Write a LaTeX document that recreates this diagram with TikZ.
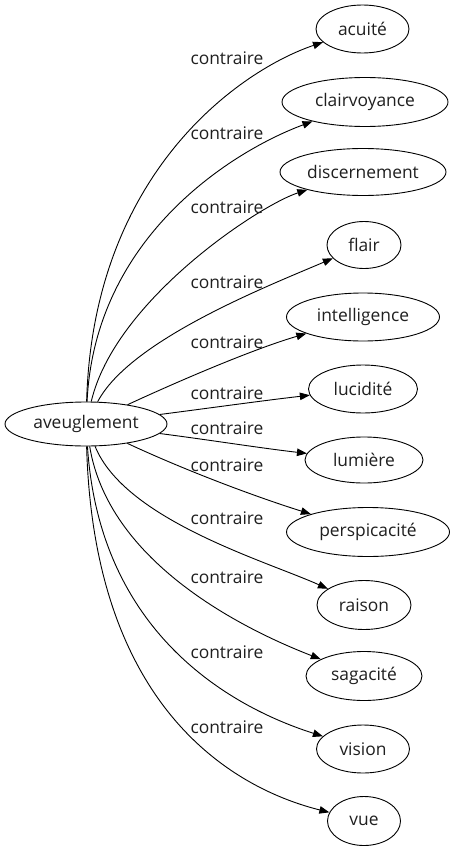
\documentclass[tikz,border=0pt]{standalone}
\usepackage{fontspec}
\setmainfont{Open Sans}
\usetikzlibrary{shapes.geometric,arrows.meta}
\begin{document}
\begin{tikzpicture}[x=1pt,y=-1pt,
  every node/.style={font=\fontsize{17.4}{20}\selectfont, text=black!88},
  word/.style={draw=black, line width=0.9pt, ellipse, inner sep=0pt},
  lbl/.style={inner sep=0pt},
  rel/.style={draw=black, line width=0.9pt, -{Triangle[length=10pt,width=7.5pt]}}]
\useasboundingbox (0,0) rectangle (453,851);
\node[word, minimum width=162pt, minimum height=44pt] (av) at (86,424) {aveuglement};
\node[word, minimum width=93pt, minimum height=48pt] (t1) at (362.5,29) {acuité};
\node[word, minimum width=166pt, minimum height=49pt] (t2) at (365,102) {clairvoyance};
\node[word, minimum width=166pt, minimum height=47pt] (t3) at (363,172) {discernement};
\node[word, minimum width=74pt, minimum height=47pt] (t4) at (364,245) {flair};
\node[word, minimum width=153pt, minimum height=48pt] (t5) at (363,317) {intelligence};
\node[word, minimum width=109pt, minimum height=48pt] (t6) at (363,389) {lucidité};
\node[word, minimum width=118pt, minimum height=46pt] (t7) at (364,460) {lumière};
\node[word, minimum width=163pt, minimum height=49pt] (t8) at (368,532) {perspicacité};
\node[word, minimum width=94pt, minimum height=49pt] (t9) at (364,605) {raison};
\node[word, minimum width=116pt, minimum height=49pt] (t10) at (364,676) {sagacité};
\node[word, minimum width=93pt, minimum height=48pt] (t11) at (363,749) {vision};
\node[word, minimum width=73pt, minimum height=49pt] (t12) at (364,821) {vue};
%
\draw[rel] (av) .. controls (93,170) and (243,69) .. (t1);
\draw[rel] (av) .. controls (95,235) and (235,150) .. (t2);
\draw[rel] (av) .. controls (115,300) and (260,205) .. (t3);
\draw[rel] (av) .. controls (130,340) and (268,286) .. (t4);
\draw[rel] (av) .. controls (170,385) and (250,350) .. (t5);
\draw[rel] (av) .. controls (210,408) and (260,401) .. (t6);
\draw[rel] (av) .. controls (210,440) and (260,448) .. (t7);
\draw[rel] (av) .. controls (180,468) and (250,495) .. (t8);
\draw[rel] (av) .. controls (125,520) and (266,561) .. (t9);
\draw[rel] (av) .. controls (110,570) and (261,636) .. (t10);
\draw[rel] (av) .. controls (100,640) and (240,710) .. (t11);
\draw[rel] (av) .. controls (94,715) and (240,790) .. (t12);
%
\node[lbl] (l1) at (227,58) {contraire};
\node[lbl] (l2) at (227,133) {contraire};
\node[lbl] (l3) at (227,207) {contraire};
\node[lbl] (l4) at (227,282) {contraire};
\node[lbl] (l5) at (227,342) {contraire};
\node[lbl] (l6) at (227,393) {contraire};
\node[lbl] (l7) at (227,428) {contraire};
\node[lbl] (l8) at (227,465) {contraire};
\node[lbl] (l9) at (227,518) {contraire};
\node[lbl] (l10) at (227,577) {contraire};
\node[lbl] (l11) at (227,652) {contraire};
\node[lbl] (l12) at (227,727) {contraire};
\end{tikzpicture}
\end{document}
